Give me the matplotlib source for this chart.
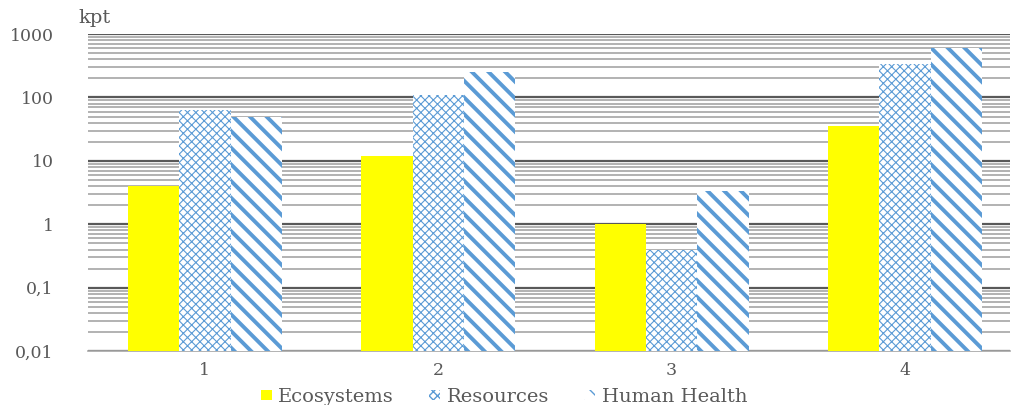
import numpy as np
import matplotlib.pyplot as plt
from matplotlib.ticker import FixedLocator, LogLocator, NullFormatter

plt.rcParams['font.family'] = ['DejaVu Serif']

groups = ['1', '2', '3', '4']
ecosystems = [4.0, 12, 1.0, 36]
resources = [63, 110, 0.39, 340]
human_health = [49, 250, 3.3, 600]

yticks = [0.01, 0.1, 1, 10, 100, 1000]
ytick_labels = ['0,01', '0,1', '1', '10', '100', '1000']

blue = '#5B9BD5'
grey = '#595959'

fig = plt.figure(figsize=(10.14, 4.05), dpi=100)
ax = fig.add_axes([0.087, 0.133, 0.909, 0.783])

x = np.arange(len(groups))
w = 0.22

b1 = ax.bar(x - w, ecosystems, w, color='#FFFF00', edgecolor='none', label='Ecosystems', zorder=3)
b2 = ax.bar(x, resources, w, color='white', edgecolor=blue, linewidth=0, hatch='xxxx',
            label='Resources', zorder=3)
b3 = ax.bar(x + w, human_health, w, color='white', edgecolor=blue, linewidth=0, hatch='\\\\',
            label='Human Health', zorder=3)
for bars, lw in ((b2, 0.8), (b3, 2.8)):
    for p in bars:
        if hasattr(p, 'set_hatch_linewidth'):
            p.set_hatch_linewidth(lw)

ax.set_yscale('log')
ax.set_ylim(0.01, 1000)
ax.set_xlim(-0.5, 3.45)
ax.yaxis.set_major_locator(FixedLocator(yticks))
ax.set_yticklabels(ytick_labels)
ax.yaxis.set_minor_locator(LogLocator(base=10, subs=np.arange(2, 10)))
ax.yaxis.set_minor_formatter(NullFormatter())
ax.set_xticks(x)
ax.set_xticklabels(groups)

ax.grid(True, which='major', axis='y', color=grey, linewidth=1.6, zorder=0)
ax.grid(True, which='minor', axis='y', color='#A6A6A6', linewidth=1.2, zorder=0)
ax.tick_params(axis='both', which='both', length=0, labelsize=12.5, labelcolor=grey)
ax.tick_params(axis='y', pad=25)
ax.tick_params(axis='x', pad=8)

for s in ['top', 'right', 'left']:
    ax.spines[s].set_visible(False)
ax.spines['bottom'].set_color('#A6A6A6')
ax.spines['bottom'].set_linewidth(1.2)

fig.text(0.077, 0.955, 'kpt', fontsize=14, color=grey, ha='left', va='center')

fig.legend(handles=[b1, b2, b3], loc='lower center', bbox_to_anchor=(0.497, -0.045), ncol=3,
           frameon=False, fontsize=14, handlelength=0.55, handleheight=0.45,
           columnspacing=1.8, handletextpad=0.35, labelcolor=grey)

fig.savefig('out.png', dpi=100)
